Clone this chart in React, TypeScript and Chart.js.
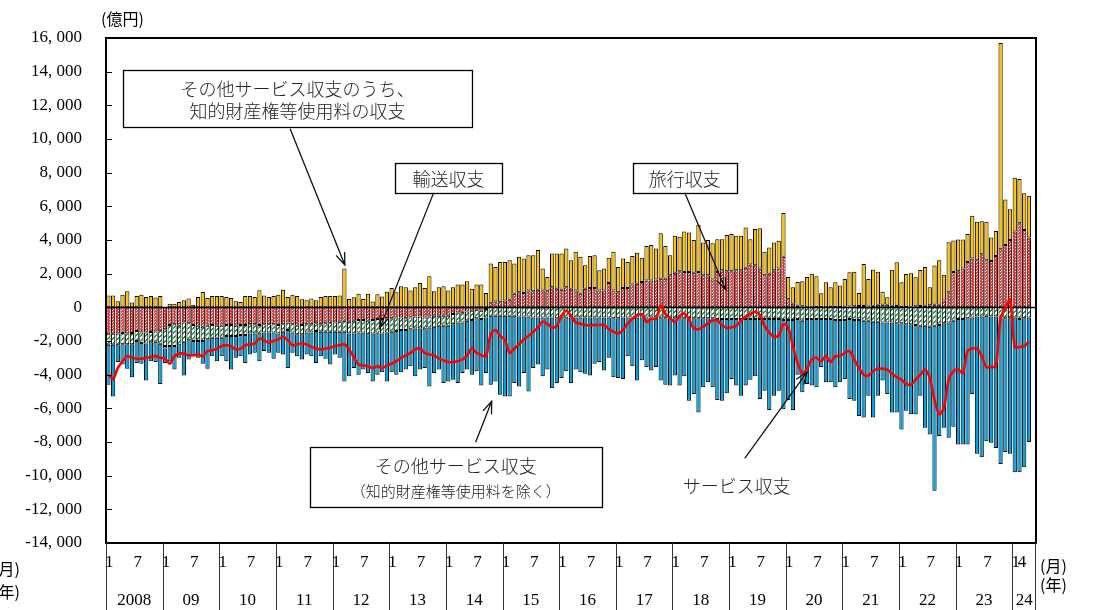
import React, { useEffect, useRef } from "react";
import { Chart, registerables } from "chart.js";

Chart.register(...registerables);

// ---------- DATA (億円, monthly, 2008/1 – 2024/4) ----------
const yearLabels = ["2008", "09", "10", "11", "12", "13", "14", "15", "16", "17", "18", "19", "20", "21", "22", "23", "24"];
const monthsInLastYear = 4;

// その他サービス収支のうち、知的財産権等使用料の収支
const ipBalance = [
  700, 700, 360, 750, 950, 280, 670, 750, 620, 670, 580, 670,
  -150, 220, 220, 320, 420, 520, 160, 620, 910, 560, 670, 670,
  670, 620, 560, 360, 320, 670, 670, 620, 1010, 710, 620, 670,
  750, 1050, 620, 750, 670, 480, 420, 520, 420, 620, 670, 670,
  680, 700, 2300, 500, 600, 800, 500, 800, 350, 780, 650, 930,
  1150, 900, 1250, 1200, 1000, 1200, 1450, 1150, 1850, 950, 1200, 1250,
  1000, 1200, 1350, 1350, 1550, 1100, 1350, 1350, 850, 2350, 2050, 2400,
  2300, 2350, 1800, 2100, 2050, 2100, 2150, 2350, 1300, 850, 2000, 2100,
  2150, 2300, 1700, 2300, 2200, 1400, 1900, 1950, 1200, 1300, 1500, 2300,
  1500, 1750, 1550, 1700, 1850, 1450, 2050, 2100, 1850, 2700, 1950, 1200,
  2200, 2050, 2400, 2350, 1950, 2800, 1950, 2100, 2150, 1950, 1850, 2150,
  2200, 2050, 2050, 2400, 1500, 2150, 2400, 1400, 1550, 1650, 1650, 2600,
  1320, 980, 1400, 1490, 1790, 1990, 1830, 810, 1480, 1170, 1470, 1270,
  1660, 2030, 2060, 770, 2500, 1640, 2140, 1970, 770, 450, 2140, 2600,
  1470, 1960, 1980, 1730, 2140, 2300, 1070, 2330, 2640, 1540, 2970, 1870,
  1880, 1730, 1650, 2540, 2280, 1970, 2280, 1400, 1490, 12250, 2710, 1830,
  3200, 2620, 2170, 2480,
];

// 旅行収支
const travelBalance = [
  -1570, -1570, -1550, -1520, -1550, -1520, -1400, -1500, -1500, -1470, -1430, -1420,
  -1300, -1050, -1000, -1100, -900, -950, -1050, -1100, -1150, -1100, -1050, -1100,
  -1100, -1050, -1050, -1100, -1050, -1050, -1000, -1000, -1050, -1000, -1000, -1000,
  -1050, -1000, -900, -1000, -1100, -1050, -1000, -1000, -950, -1000, -950, -950,
  -900, -850, -800, -850, -800, -750, -750, -800, -750, -700, -700, -650,
  -650, -600, -600, -650, -600, -550, -550, -600, -550, -500, -500, -500,
  -500, -400, -300, -350, -250, -200, -150, -200, -100, 250, 350, 300,
  400, 450, 800, 900, 850, 1000, 950, 1050, 1000, 950, 1200, 1100,
  1050, 1200, 1100, 1000, 800, 1100, 1150, 1150, 1000, 1000, 1450, 1000,
  900, 1150, 1150, 1350, 1400, 1500, 1600, 1600, 1650, 1700, 1700, 1900,
  2050, 2150, 2100, 2100, 2050, 2100, 1900, 1900, 1650, 2100, 2200, 2150,
  2150, 2200, 2200, 2350, 2550, 2500, 2300, 1900, 2000, 2200, 2300, 3000,
  480, 220, 100, 60, 10, 10, 20, 20, 10, 20, 20, 20,
  30, 50, 60, 80, 80, 50, 100, 150, 160, 150, 100, 80,
  20, 20, 40, 60, 80, 100, 120, 150, 150, 400, 900, 2100,
  2150, 2300, 2700, 2900, 2800, 3150, 2800, 2750, 3050, 3450, 3700, 4000,
  4500, 5000, 4600, 4150,
];

// 輸送収支
const transportBalance = [
  -650, -650, -700, -680, -650, -680, -600, -620, -650, -600, -620, -750,
  -1000, -1250, -1300, -1150, -1150, -1000, -950, -900, -850, -800, -750, -700,
  -700, -650, -650, -600, -600, -600, -550, -550, -550, -500, -500, -500,
  -500, -450, -450, -500, -500, -550, -500, -500, -450, -450, -500, -500,
  -550, -600, -650, -700, -750, -750, -750, -800, -800, -800, -850, -850,
  -800, -800, -750, -700, -700, -700, -700, -700, -650, -650, -600, -600,
  -600, -600, -600, -550, -550, -550, -500, -500, -500, -500, -500, -500,
  -500, -500, -500, -550, -550, -550, -600, -600, -600, -600, -600, -650,
  -650, -650, -600, -600, -600, -600, -600, -600, -600, -600, -600, -650,
  -650, -600, -600, -600, -600, -600, -600, -600, -600, -650, -650, -650,
  -650, -650, -650, -650, -650, -650, -650, -650, -650, -700, -700, -700,
  -700, -700, -700, -700, -700, -700, -700, -700, -700, -700, -700, -750,
  -750, -750, -700, -800, -700, -700, -700, -700, -700, -700, -750, -750,
  -750, -700, -750, -750, -800, -800, -850, -850, -900, -900, -900, -950,
  -950, -1000, -1000, -1050, -1100, -1100, -1150, -1100, -1050, -950, -900, -800,
  -700, -700, -650, -600, -550, -550, -500, -550, -550, -600, -650, -650,
  -600, -700, -650, -600,
];

// その他サービス収支（知的財産権等使用料を除く）
const otherBalance = [
  -2380, -3080, -1000, -1200, -1450, -1950, -1300, -1230, -2200, -1130, -1200, -2380,
  -850, -900, -1400, -750, -2000, -1150, -900, -1000, -1350, -1750, -1100, -1400,
  -1100, -1500, -2000, -1300, -1250, -1650, -1250, -1150, -1600, -1100, -1200, -1550,
  -1150, -1350, -2250, -1200, -1300, -1500, -1300, -1400, -1900, -1450, -1600, -1950,
  -1350, -1550, -2950, -2550, -2050, -2500, -2200, -2300, -2850, -2500, -2300, -2900,
  -2400, -2600, -2500, -2350, -2200, -2850, -2450, -2300, -3500, -2750, -2600, -3400,
  -3300, -3300, -3600, -3000, -2900, -3250, -3150, -3950, -3300, -4100, -3900, -4700,
  -4800, -4800, -4000, -4150, -3350, -4450, -3000, -2800, -3500, -3100, -4200, -3850,
  -3550, -3150, -3900, -3100, -3250, -3350, -3450, -2750, -2650, -3150, -2400, -3500,
  -3550, -3650, -2300, -2900, -3750, -2550, -2950, -3150, -2950, -3700, -3950, -4000,
  -3400, -4000, -3450, -4900, -4500, -5600, -4100, -3800, -4100, -4800, -4850, -4400,
  -3550, -3950, -4550, -3950, -3600, -3400, -4750, -4250, -5400, -4550, -4250, -5300,
  -4750, -5350, -3300, -4250, -3850, -3950, -4050, -2850, -3750, -3750, -4000, -3700,
  -3500, -4750, -4800, -5700, -5750, -4450, -5700, -4400, -3450, -4250, -5350, -5300,
  -6300, -5150, -5350, -5300, -4150, -6050, -6400, -9800, -6600, -6200, -6850, -6300,
  -7450, -7450, -7500, -4550, -8150, -8350, -7450, -7500, -7800, -8700, -7950, -8050,
  -9200, -9100, -8850, -7400,
];

// サービス収支（折れ線）
const servicesBalance = [
  -4000, -4250, -3600, -3200, -2900, -3000, -3050, -3050, -3000, -2950, -2900, -3000,
  -3050, -3350, -2900, -2750, -2750, -2850, -2850, -2800, -2900, -2600, -2550, -2450,
  -2300, -2250, -2300, -2500, -2450, -2250, -2200, -2150, -1850, -1950, -2100, -2000,
  -1900, -1750, -1950, -2250, -2200, -2150, -2200, -2350, -2450, -2500, -2450, -2400,
  -2300, -2250, -2200, -2500, -2950, -3400, -3450, -3500, -3600, -3500, -3600, -3450,
  -3350, -3200, -3000, -2850, -2700, -2500, -2450, -2700, -2800, -2850, -3050, -3150,
  -3250, -3250, -3200, -3100, -2850, -2450, -2700, -2850, -2900, -1600, -1350, -1700,
  -1950, -2700, -2450, -2200, -1900, -1700, -1450, -1200, -850, -1000, -1200, -1100,
  -500, -200, -500, -900, -970, -1050, -1070, -1050, -1050, -1050, -1300, -1450,
  -1550, -1350, -950, -700, -480, -400, -870, -680, -670, 100, -400, -650,
  -870, -500, -380, -700, -1250, -1300, -1150, -950, -780, -780, -1050, -1230,
  -1180, -1100, -800, -550, -380, -280, -450, -1100, -1500, -1750, -1680, -1000,
  -1200, -2300, -3300, -3900, -3650, -3100, -3000, -3200, -2900, -3250, -2900, -2900,
  -2700, -2600, -3100, -3600, -4000, -4050, -3800, -3650, -3650, -3700, -3950, -4150,
  -4300, -4550, -4600, -4300, -4000, -3700, -4200, -5500, -6350, -5950, -4300, -3800,
  -3700, -3900, -2600, -2450, -2450, -2900, -3550, -3550, -3500, -650, -50, 450,
  -2350, -2350, -2300, -2050,
];

// month tick labels per year: [label, month offset]
const monthTicks: [string, number][] = [["1", 0], ["7", 6]];
const lastYearMonthTicks: [string, number][] = [["1", 0], ["4", 1.3]];

const yMin = -14000;
const yMax = 16000;
const yStep = 2000;

// annotations (data coordinates: x = month index, y = 億円)
const annotationBoxes = [
  { lines: ["その他サービス収支のうち、", "知的財産権等使用料の収支"], sizes: [18, 18], lineGap: 22, x0: 3.1, x1: 77.0, y0: 14070, y1: 10670 },
  { lines: ["輸送収支"], sizes: [18], lineGap: 22, x0: 60.7, x1: 83.4, y0: 8590, y1: 6800 },
  { lines: ["旅行収支"], sizes: [18], lineGap: 22, x0: 111.1, x1: 133.1, y0: 8590, y1: 6800 },
  { lines: ["その他サービス収支", "（知的財産権等使用料を除く）"], sizes: [18, 15], lineGap: 25, x0: 42.7, x1: 104.5, y0: -8310, y1: -11890 },
];
const annotationTexts = [{ text: "サービス収支", x: 133.1, y: -10640, size: 18 }];
const annotationArrows = [
  { from: [38.5, 10610], to: [50.1, 2520] },
  { from: [68.9, 6800], to: [57.5, -1230] },
  { from: [122.1, 6800], to: [130.8, 1030] },
  { from: [77.8, -8020], to: [81.2, -5580] },
  { from: [134.8, -8970], to: [148.0, -3850] },
];

const SERIF = '"Liberation Serif", "DejaVu Serif", "Noto Sans CJK JP", serif';
const JP = '"Noto Sans CJK JP", "Liberation Serif", sans-serif';

function fmtTick(v: number): string {
  if (v === 0) return "0";
  const sign = v < 0 ? "-" : "";
  const a = Math.abs(v);
  return sign + Math.floor(a / 1000) + ", " + String(a % 1000).padStart(3, "0");
}

function makePinkPattern(): CanvasPattern | string {
  const c = document.createElement("canvas");
  c.width = 3; c.height = 3;
  const g = c.getContext("2d");
  if (!g) return "#f55";
  g.fillStyle = "#ff2a2a";
  g.fillRect(0, 0, 3, 3);
  g.fillStyle = "#ffffff";
  g.fillRect(1, 1, 1, 1);
  g.fillStyle = "#ffd0d0";
  g.fillRect(2, 0, 1, 1);
  return g.createPattern(c, "repeat") || "#f55";
}

function makeGreenPattern(): CanvasPattern | string {
  const s = 5;
  const c = document.createElement("canvas");
  c.width = s; c.height = s;
  const g = c.getContext("2d");
  if (!g) return "#2a5";
  g.fillStyle = "#ffffff";
  g.fillRect(0, 0, s, s);
  g.fillStyle = "#0c9c40";
  for (let x = 0; x < s; x++) {
    for (let y = 0; y < s; y++) {
      if ((x + y) % s < 2) g.fillRect(x, y, 1, 1);
    }
  }
  return g.createPattern(c, "repeat") || "#2a5";
}

function drawArrow(ctx: CanvasRenderingContext2D, x1: number, y1: number, x2: number, y2: number) {
  ctx.beginPath();
  ctx.moveTo(x1, y1);
  ctx.lineTo(x2, y2);
  const ang = Math.atan2(y2 - y1, x2 - x1);
  const L = 13, a = 0.36;
  ctx.moveTo(x2 - L * Math.cos(ang - a), y2 - L * Math.sin(ang - a));
  ctx.lineTo(x2, y2);
  ctx.lineTo(x2 - L * Math.cos(ang + a), y2 - L * Math.sin(ang + a));
  ctx.stroke();
}

const overlayPlugin = {
  id: "overlay",
  beforeDatasetDraw(chart: any, args: any) {
    if (args.index !== 0) return;
    const { ctx, chartArea } = chart;
    const y = Math.round(chart.scales.y.getPixelForValue(0)) + 0.5;
    ctx.save();
    ctx.strokeStyle = "#000";
    ctx.lineWidth = 1.5;
    ctx.beginPath();
    ctx.moveTo(chartArea.left, y);
    ctx.lineTo(chartArea.right, y);
    ctx.stroke();
    ctx.restore();
  },
  afterDraw(chart: any) {
    const { ctx, chartArea } = chart;
    const xs = chart.scales.x;
    const ys = chart.scales.y;
    const H = chart.height;
    ctx.save();

    // frame
    ctx.strokeStyle = "#000";
    ctx.lineWidth = 2;
    ctx.strokeRect(chartArea.left, chartArea.top, chartArea.right - chartArea.left, chartArea.bottom - chartArea.top);

    // inward y ticks
    ctx.lineWidth = 1;
    for (let v = yMin; v <= yMax; v += yStep) {
      const y = Math.round(ys.getPixelForValue(v)) + 0.5;
      ctx.beginPath();
      ctx.moveTo(chartArea.left, y);
      ctx.lineTo(chartArea.left + 6, y);
      ctx.stroke();
    }

    // x axis: month ticks, year labels, separators
    const nData = ipBalance.length;
    ctx.fillStyle = "#000";
    ctx.textAlign = "center";
    ctx.textBaseline = "middle";
    ctx.strokeStyle = "#333";
    ctx.lineWidth = 1;
    yearLabels.forEach((lab, k) => {
      const start = k * 12;
      const isLast = k === yearLabels.length - 1;
      const xL = xs.getPixelForValue(start - 0.5);
      const xR = isLast ? chartArea.right : xs.getPixelForValue(start + 11.5);
      const xl = Math.round(xL) + 0.5;
      ctx.beginPath();
      ctx.moveTo(xl, chartArea.bottom);
      ctx.lineTo(xl, H);
      ctx.stroke();
      ctx.font = "17px " + SERIF;
      const ticks = isLast ? lastYearMonthTicks : monthTicks;
      ticks.forEach(([t, m]) => {
        if (start + m < nData) ctx.fillText(t, xs.getPixelForValue(start + m) + 1, 563);
      });
      ctx.fillText(lab, (xL + xR) / 2, 601);
    });
    const xr = Math.round(chartArea.right) - 0.5;
    ctx.beginPath();
    ctx.moveTo(xr, chartArea.bottom);
    ctx.lineTo(xr, H);
    ctx.stroke();

    // unit labels
    ctx.font = "16px " + JP;
    ctx.textAlign = "left";
    ctx.fillText("(億円)", 101, 19);
    ctx.textAlign = "right";
    ctx.fillText("(月)", 20, 569);
    ctx.fillText("(年)", 20, 592);
    ctx.textAlign = "left";
    ctx.fillText("(月)", 1040, 566);
    ctx.fillText("(年)", 1040, 585);

    // annotation boxes
    ctx.strokeStyle = "#000";
    ctx.lineWidth = 1.3;
    annotationBoxes.forEach((b) => {
      const x0 = xs.getPixelForValue(b.x0), x1 = xs.getPixelForValue(b.x1);
      const y0 = ys.getPixelForValue(b.y0), y1 = ys.getPixelForValue(b.y1);
      ctx.fillStyle = "#fff";
      ctx.fillRect(x0, y0, x1 - x0, y1 - y0);
      ctx.strokeRect(Math.round(x0) + 0.5, Math.round(y0) + 0.5, Math.round(x1 - x0), Math.round(y1 - y0));
      ctx.fillStyle = "#222";
      ctx.textAlign = "center";
      const mid = (y0 + y1) / 2;
      const n = b.lines.length;
      b.lines.forEach((ln, i) => {
        ctx.font = "300 " + b.sizes[i] + "px " + JP;
        ctx.fillText(ln, (x0 + x1) / 2, mid + (i - (n - 1) / 2) * b.lineGap + 1);
      });
    });
    annotationTexts.forEach((t) => {
      ctx.font = "300 " + t.size + "px " + JP;
      ctx.fillStyle = "#222";
      ctx.textAlign = "center";
      ctx.fillText(t.text, xs.getPixelForValue(t.x), ys.getPixelForValue(t.y));
    });
    ctx.strokeStyle = "#111";
    ctx.lineWidth = 1.3;
    annotationArrows.forEach((a) => {
      drawArrow(
        ctx,
        xs.getPixelForValue(a.from[0]), ys.getPixelForValue(a.from[1]),
        xs.getPixelForValue(a.to[0]), ys.getPixelForValue(a.to[1])
      );
    });
    ctx.restore();
  },
};

export default function App() {
  const ref = useRef<HTMLCanvasElement | null>(null);
  useEffect(() => {
    if (!ref.current) return;
    const labels: string[] = [];
    yearLabels.forEach((y, k) => {
      const cnt = k === yearLabels.length - 1 ? monthsInLastYear : 12;
      for (let m = 1; m <= cnt; m++) labels.push(y + "/" + m);
    });
    labels.push(""); // trailing empty slot to the right edge
    const pink = makePinkPattern();
    const green = makeGreenPattern();
    const barCommon = {
      type: "bar" as const,
      borderColor: "#000",
      borderWidth: 1,
      borderSkipped: false,
      barPercentage: 0.9,
      categoryPercentage: 1,
      stack: "svc",
      yAxisID: "y",
    };
    const chart = new Chart(ref.current, {
      type: "bar",
      data: {
        labels,
        datasets: [
          {
            type: "line",
            label: "サービス収支",
            data: servicesBalance,
            yAxisID: "y2",
            borderColor: "#ff0000",
            borderWidth: 2.6,
            pointRadius: 0,
            tension: 0.3,
            fill: false,
          } as any,
          { ...barCommon, label: "旅行収支", data: travelBalance, backgroundColor: pink } as any,
          { ...barCommon, label: "輸送収支", data: transportBalance, backgroundColor: green } as any,
          { ...barCommon, label: "知的財産権等使用料", data: ipBalance, backgroundColor: "#ffc000" } as any,
          { ...barCommon, label: "その他サービス収支", data: otherBalance, backgroundColor: "#00a2e2" } as any,
        ],
      },
      options: {
        responsive: false,
        devicePixelRatio: 1,
        animation: false,
        layout: { padding: { left: 0, right: 59, top: 38, bottom: 67 } },
        plugins: { legend: { display: false }, tooltip: { enabled: false } },
        scales: {
          x: { type: "category", display: false, stacked: true, offset: true, grid: { display: false } },
          y: {
            stacked: true,
            min: yMin,
            max: yMax,
            position: "left",
            ticks: {
              stepSize: yStep,
              color: "#000",
              padding: 24,
              font: { family: SERIF, size: 17 },
              callback: (v: any) => fmtTick(Number(v)),
            },
            grid: { display: false, drawTicks: false },
            border: { display: false },
            afterFit: (s: any) => { s.width = 106; },
          },
          y2: { display: false, min: yMin, max: yMax, stacked: false },
        },
      } as any,
      plugins: [overlayPlugin],
    });
    return () => chart.destroy();
  }, []);
  return (
    <div style={{ position: "fixed", left: 0, top: 0, width: 1095, height: 610, background: "#fff" }}>
      <canvas ref={ref} width={1095} height={610} />
    </div>
  );
}
